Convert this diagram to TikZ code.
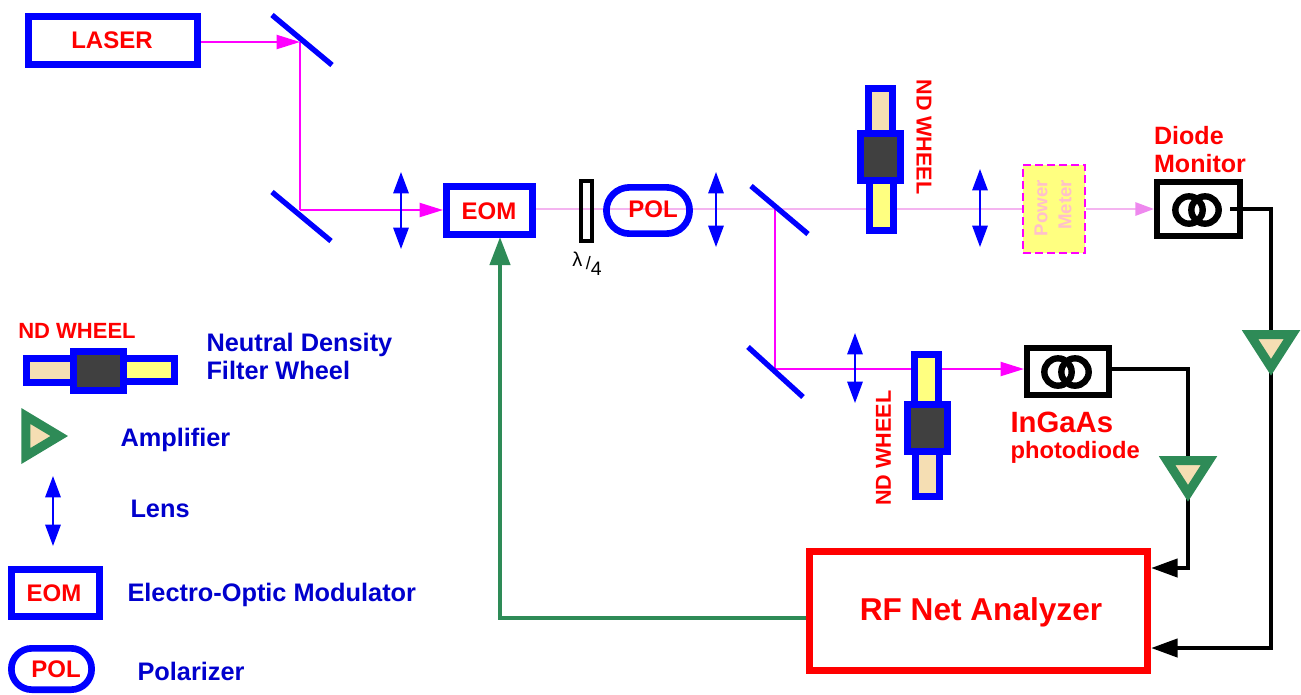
\documentclass[tikz,border=0pt]{standalone}
\usepackage{fontspec}
\setmainfont{Liberation Sans}
\usetikzlibrary{arrows.meta,shapes.geometric,backgrounds}
\definecolor{fullmagenta}{RGB}{255,0,255}
\definecolor{palebeam}{RGB}{244,180,240}
\definecolor{palehead}{RGB}{238,136,238}
\definecolor{seagreen}{RGB}{46,139,87}
\definecolor{wheat}{RGB}{245,222,179}
\definecolor{lemon}{RGB}{255,255,128}
\definecolor{darkgrey}{RGB}{64,64,64}
\definecolor{legendblue}{RGB}{0,0,205}
\definecolor{blushpink}{RGB}{255,192,203}
\tikzset{every picture/.style={line width=0.75pt},
  bluebox/.style={draw=blue,line width=5pt,inner sep=0pt},
  wheelwheat/.style={bluebox,fill=wheat,minimum width=18.2pt},
  wheelyellow/.style={bluebox,fill=lemon,minimum width=18.2pt},
  wheeldark/.style={bluebox,fill=darkgrey,minimum width=30.2pt,minimum height=35.6pt},
  diodebox/.style={draw=black,line width=4.5pt,inner sep=0pt},
  diodering/.style={circle,draw=black,line width=4.8pt,minimum size=20.5pt,inner sep=0pt},
  amplifier/.style={isosceles triangle,draw=seagreen,fill=wheat,line width=6.75pt,inner sep=0pt,
    isosceles triangle stretches,minimum height=24.5pt,minimum width=31.5pt},
  mirror/.style={draw=blue,line width=4pt},
  lens/.style={draw=blue,line width=1.5pt,{Triangle[length=16pt,width=11.5pt]}-{Triangle[length=16pt,width=11.5pt]}},
  beam/.style={draw=fullmagenta,line width=1.5pt},
  beamtip/.style={-{Triangle[length=17.5pt,width=10.5pt,fill=fullmagenta]}},
  wire/.style={line width=3.2pt},
  wiretip/.style={wire,-{Triangle[length=20pt,width=13.5pt]}},
  redlabel/.style={text=red,font=\bfseries\fontsize{18}{21}\selectfont,inner sep=0pt},
  bluelabel/.style={text=legendblue,font=\bfseries\fontsize{19}{21}\selectfont,inner sep=0pt,anchor=west,align=left}
}
\begin{document}
\begin{tikzpicture}[x=0.75pt,y=0.75pt,yscale=-1,xscale=1]
\useasboundingbox (0,0) rectangle (1301,694);

%Shape: Mirrors
\coordinate (mirA) at (300,42);
\coordinate (mirB) at (300,210);
\coordinate (mirC) at (775,209);
\coordinate (mirD) at (775,369);
\draw [mirror] (mirA) ++(-28,-27) -- ++(60,50);
\draw [mirror] (mirB) ++(-28,-18) -- ++(59,49);
\draw [mirror] (mirC) ++(-24,-23) -- ++(57,48);
\draw [mirror] (mirD) ++(-27,-22) -- ++(55,50);

%Shape: Lenses
\draw [lens] (401,172) -- (401,249);
\draw [lens] (716,172) -- (716,247);
\draw [lens] (980,169) -- (980,247);
\draw [lens] (855,333) -- (855,403);
\draw [lens] (53,476) -- (53,546);

%Shape: Boxes
\node [bluebox,minimum width=127pt,minimum height=36.2pt] (laser) at (113,40.5) {};
\node [bluebox,minimum width=64.7pt,minimum height=36.2pt] (eom) at (489.5,210.5) {};
\node [draw=black,line width=3pt,inner sep=0pt,minimum width=8.25pt,minimum height=45pt] (plate) at (586.5,211) {};
\node [bluebox,minimum width=62.4pt,minimum height=34.7pt,rounded corners=17.3pt] (pol) at (648,210.5) {};
\node [draw=fullmagenta,fill=lemon,line width=1.5pt,dash pattern=on 6pt off 3pt,minimum width=46.5pt,minimum height=66pt,inner sep=0pt] (power) at (1054,209) {};
\node [diodebox,minimum width=62.3pt,minimum height=40.5pt] (diode) at (1198.5,209) {};
\node [diodebox,minimum width=61.5pt,minimum height=35.3pt] (ingaas) at (1068,371.5) {};
\node [draw=red,line width=5pt,minimum width=253.7pt,minimum height=89.5pt,inner sep=0pt] (rf) at (978.5,611) {};
\node [diodering] (diodeA) at (1189,210) {};
\node [diodering] (diodeB) at (1205,210) {};
\node [diodering] (ingaasA) at (1058,372) {};
\node [diodering] (ingaasB) at (1075,372) {};

%Shape: ND wheels
\node [wheelwheat,minimum height=37.7pt] (wheelAtop) at (880.5,113.5) {};
\node [wheelyellow,minimum height=41.5pt] (wheelAbot) at (881.5,203) {};
\node [wheeldark] (wheelAmid) at (880.5,157) {};
\node [wheelyellow,minimum height=42.2pt] (wheelBtop) at (926.5,382.5) {};
\node [wheelwheat,minimum height=38.5pt] (wheelBbot) at (927.5,471) {};
\node [wheeldark] (wheelBmid) at (927.5,428) {};

%Shape: Amplifiers
\node [amplifier,shape border rotate=-90,anchor=apex] (ampA) at (1271,379) {};
\node [amplifier,shape border rotate=-90,anchor=apex] (ampB) at (1188,505) {};

%Shape: Legend
\node [wheelwheat,minimum width=41.5pt,minimum height=18.2pt] (keyLeft) at (54,370.5) {};
\node [wheelyellow,minimum width=42.2pt,minimum height=17.6pt] (keyRight) at (146.5,370) {};
\node [wheeldark,minimum width=37.8pt,minimum height=29.6pt] (keyMid) at (98.5,371) {};
\node [amplifier,anchor=apex,minimum height=25pt,minimum width=30pt] (keyAmp) at (71,436) {};
\node [bluebox,minimum width=66.2pt,minimum height=35.5pt] (keyEom) at (55.5,593) {};
\node [bluebox,minimum width=60.2pt,minimum height=31pt,rounded corners=15.4pt] (keyPol) at (51.5,669) {};

%Straight Lines
\coordinate (diodeOut) at (1230,209);
\coordinate (rfInA) at (1151,568);
\coordinate (rfInB) at (1151,648);
\coordinate (rfOut) at (806,618);
\coordinate (eomIn) at (500,237);
\begin{scope}[on background layer]
\draw [beam,beamtip] (laser.east |- mirA) -- (mirA);
\draw [beam] (mirA) -- (mirB);
\draw [beam,beamtip] (mirB) -- (eom.west |- mirB);
\draw [beam,draw=palebeam] (eom.east |- mirC) -- (power.west);
\draw [beam,draw=palebeam,-{Triangle[length=14pt,width=10pt,color=palehead]}] (power.east) -- (diode.west);
\draw [beam] (mirC) -- (mirD);
\draw [beam,beamtip] (mirD) -- (ingaas.west |- mirD);
\draw [wire] (diodeOut) -| (ampA.center);
\draw [wiretip] (ampA.center) |- (rfInB);
\draw [wire] (ingaas.east |- mirD) -| (ampB.center);
\draw [wiretip] (ampB.center) |- (rfInA);
\draw [draw=seagreen,line width=3.2pt,-{Triangle[length=21pt,width=15pt]}] (rfOut) -| (eomIn);
\end{scope}

% Text Node
\node [redlabel] (laserText) at (112,40) {LASER};
\node [redlabel] (eomText) at (489,211) {EOM};
\node [redlabel] (polText) at (653,209) {POL};
\node [redlabel,font=\bfseries\fontsize{16.2}{19}\selectfont,rotate=-90] (wheelAText) at (924,137) {ND WHEEL};
\node [redlabel,font=\bfseries\fontsize{16.2}{19}\selectfont,rotate=90] (wheelBText) at (883.5,448) {ND WHEEL};
\node [text=blushpink,font=\bfseries\fontsize{14}{18}\selectfont,inner sep=0pt,rotate=90,align=right] (powerText) at (1053,208) {Power\\Meter};
\node [redlabel,align=left,font=\bfseries\fontsize{18.8}{21}\selectfont] (diodeText) at (1200,150) {Diode\\Monitor};
\node [redlabel,font=\bfseries\fontsize{22}{26}\selectfont,anchor=west] (ingaasText) at (1010,422) {InGaAs};
\node [redlabel,font=\bfseries\fontsize{17.8}{21}\selectfont,anchor=west] (photoText) at (1010,452) {photodiode};
\node [redlabel,font=\bfseries\fontsize{23.7}{28}\selectfont] (rfText) at (981,612) {RF Net Analyzer};
\node [inner sep=0pt,font=\fontsize{15}{17}\selectfont] (plateText) at (587,264) {λ\kern2.5pt\raisebox{-2pt}{\fontsize{13.5}{15}\selectfont/}\raisebox{-6.5pt}{\fontsize{14.6}{17}\selectfont 4}};
\node [redlabel,font=\bfseries\fontsize{16.5}{19}\selectfont] (keyWheelText) at (77,331) {ND WHEEL};
\node [bluelabel] (keyWheelName) at (206,356) {Neutral Density\\Filter Wheel};
\node [bluelabel] (keyAmpName) at (120,440) {Amplifier};
\node [bluelabel] (keyLensName) at (130,509) {Lens};
\node [redlabel] (keyEomText) at (54,593) {EOM};
\node [bluelabel] (keyEomName) at (127,595) {Electro-Optic Modulator};
\node [redlabel] (keyPolText) at (56,669) {POL};
\node [bluelabel] (keyPolName) at (137,671) {Polarizer};

\end{tikzpicture}
\end{document}
